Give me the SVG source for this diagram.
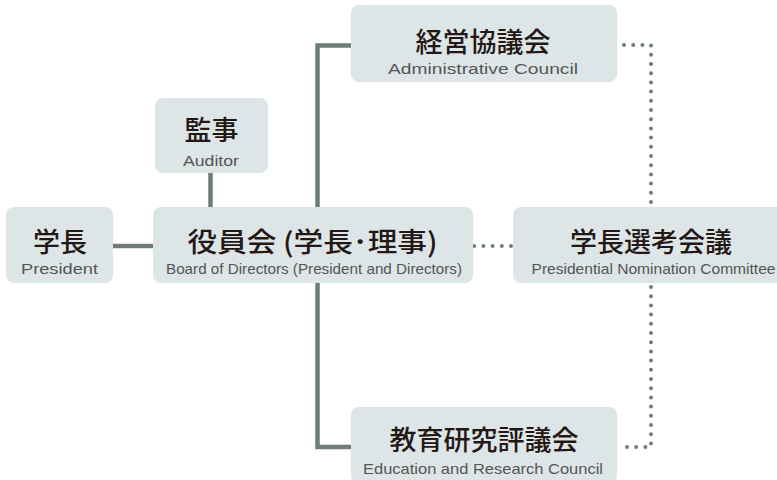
<svg xmlns="http://www.w3.org/2000/svg" width="777" height="480" viewBox="0 0 777 480">
<style>
.box{fill:#dde5e6}
.jp{font-family:"Noto Sans CJK JP","Noto Sans CJK SC",sans-serif;font-size:27px;font-weight:500;fill:#231815;text-anchor:middle}
.en{font-family:"Liberation Sans",Arial,sans-serif;font-size:15px;fill:#555;text-anchor:middle}
.solid{stroke:#6e7e77;stroke-width:4.5;fill:none}
.dot{stroke:#6e7e77;stroke-width:4;fill:none;stroke-linecap:round;stroke-dasharray:0 9.2}
</style>
<rect width="777" height="480" fill="#fff"/>
<g id="connectors">
<line class="solid" x1="113" y1="246" x2="153" y2="246"/>
<line class="solid" x1="210.5" y1="173" x2="210.5" y2="207"/>
<polyline class="solid" points="351,45.5 317.5,45.5 317.5,207"/>
<polyline class="solid" points="317.5,283 317.5,447 351,447"/>
<line class="dot" x1="511" y1="246" x2="473" y2="246"/>
<polyline class="dot" points="624,45 651,45 651,205"/>
<polyline class="dot" points="651,287 651,447 624,447"/>
</g>
<g id="president">
<rect class="box" x="6" y="207" width="107" height="76" rx="8"/>
<text class="jp" x="60" y="252">学長</text>
<text class="en" x="59.5" y="274" textLength="77" lengthAdjust="spacingAndGlyphs">President</text>
</g>
<g id="board">
<rect class="box" x="153" y="207" width="320" height="76" rx="8"/>
<text class="jp" x="312.5" y="252" textLength="250" lengthAdjust="spacingAndGlyphs">役員会 (学長･理事)</text>
<text class="en" x="314" y="274" textLength="296" lengthAdjust="spacingAndGlyphs">Board of Directors (President and Directors)</text>
</g>
<g id="auditor">
<rect class="box" x="155" y="98" width="113" height="75" rx="8"/>
<text class="jp" x="211.5" y="140">監事</text>
<text class="en" x="211" y="166" textLength="56" lengthAdjust="spacingAndGlyphs">Auditor</text>
</g>
<g id="admin-council">
<rect class="box" x="351" y="5" width="266" height="77" rx="8"/>
<text class="jp" x="483" y="52">経営協議会</text>
<text class="en" x="483" y="74" textLength="190" lengthAdjust="spacingAndGlyphs">Administrative Council</text>
</g>
<g id="nomination">
<rect class="box" x="513" y="207" width="274" height="76" rx="8"/>
<text class="jp" x="651" y="252">学長選考会議</text>
<text class="en" x="653.5" y="274" textLength="244" lengthAdjust="spacingAndGlyphs">Presidential Nomination Committee</text>
</g>
<g id="education">
<rect class="box" x="351" y="407" width="266" height="77" rx="8"/>
<text class="jp" x="484" y="450">教育研究評議会</text>
<text class="en" x="483" y="474" textLength="240" lengthAdjust="spacingAndGlyphs">Education and Research Council</text>
</g>
</svg>
